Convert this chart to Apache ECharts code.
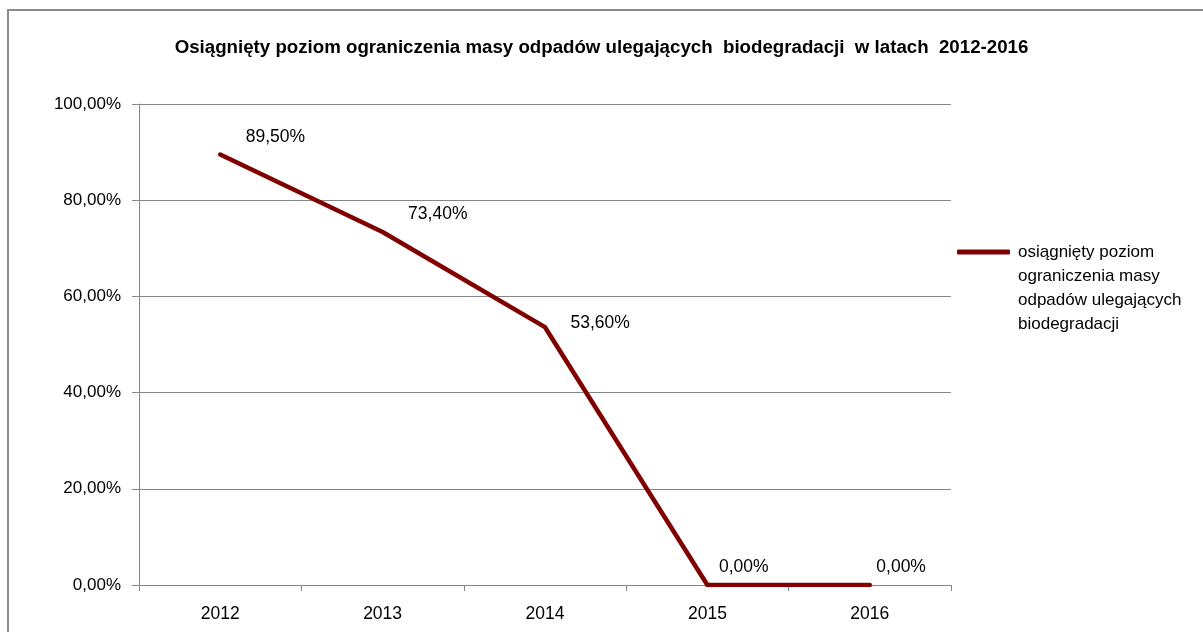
<!DOCTYPE html>
<html><head><meta charset="utf-8">
<script src="https://cdn.jsdelivr.net/npm/echarts@6/dist/echarts.min.js"></script>
<style>html,body{margin:0;padding:0;background:#fff}#c{width:1203px;height:632px}</style>
</head><body><div id="c"></div>
<script>
const categories = ['2012', '2013', '2014', '2015', '2016'];
const values = [89.5, 73.4, 53.6, 0, 0];
const yTicks = [0, 20, 40, 60, 80, 100];
const seriesName = 'osiągnięty poziom ograniczenia masy odpadów ulegających biodegradacji';
const legendLines = ['osiągnięty poziom', 'ograniczenia masy', 'odpadów ulegających', 'biodegradacji'];
const titleText = 'Osiągnięty poziom ograniczenia masy odpadów ulegających  biodegradacji  w latach  2012-2016';
// label offsets (style only)
const labelOffsets = [[25, -17], [25, -18], [25, -4], [11, -18], [6, -18]];

const FONT = '"Liberation Sans", Arial, sans-serif';
const fmt = v => v.toFixed(2).replace('.', ',') + '%';
const chart = echarts.init(document.getElementById('c'));
chart.setOption({
  animation: false,
  backgroundColor: '#fff',
  title: {
    text: titleText, left: 'center', top: 33,
    textStyle: { fontFamily: FONT, fontSize: 18.7, fontWeight: 'bold', color: '#000' }
  },
  graphic: [{
    type: 'rect', shape: { x: 8, y: 10, width: 1400, height: 800 },
    style: { fill: 'none', stroke: '#8c8c8c', lineWidth: 2 }, silent: true, z: -1
  }],
  legend: {
    left: 957, top: 168, padding: 0, itemWidth: 53, itemHeight: 5, itemGap: 0,
    icon: 'roundRect',
    data: [{ name: seriesName, itemStyle: { color: '#800000' } }],
    formatter: () => '\n\n\n' + legendLines.join('\n'),
    textStyle: { fontFamily: FONT, fontSize: 17, lineHeight: 24, color: '#000', padding: [0, 0, 0, 3] }
  },
  grid: { left: 139, right: 252, top: 104, bottom: 47 },
  xAxis: {
    type: 'category', data: categories, boundaryGap: true,
    axisLine: { lineStyle: { color: '#868686', width: 1 } },
    axisTick: { show: true, length: 6, alignWithLabel: false, lineStyle: { color: '#868686' } },
    axisLabel: { fontFamily: FONT, fontSize: 17.5, color: '#000', margin: 20 }
  },
  yAxis: {
    type: 'value', min: 0, max: 100, interval: 20,
    axisLine: { show: true, lineStyle: { color: '#868686', width: 1 } },
    axisTick: { show: true, length: 7, lineStyle: { color: '#868686' } },
    splitLine: { lineStyle: { color: '#868686', width: 1 } },
    axisLabel: { fontFamily: FONT, fontSize: 17, color: '#000', margin: 18, padding: [6, 0, 0, 0],
      formatter: v => yTicks.includes(v) ? fmt(v) : '' }
  },
  series: [{
    name: seriesName, type: 'line',
    data: values.map((v, i) => ({ value: v, label: { offset: labelOffsets[i] } })),
    symbol: 'circle', symbolSize: 1, showSymbol: true,
    itemStyle: { color: '#800000' },
    lineStyle: { color: '#800000', width: 4.5, cap: 'round', join: 'round' },
    label: { show: true, position: 'right', distance: 0, fontFamily: FONT, fontSize: 17.5, color: '#000',
      formatter: p => fmt(p.value) }
  }]
});
</script></body></html>
